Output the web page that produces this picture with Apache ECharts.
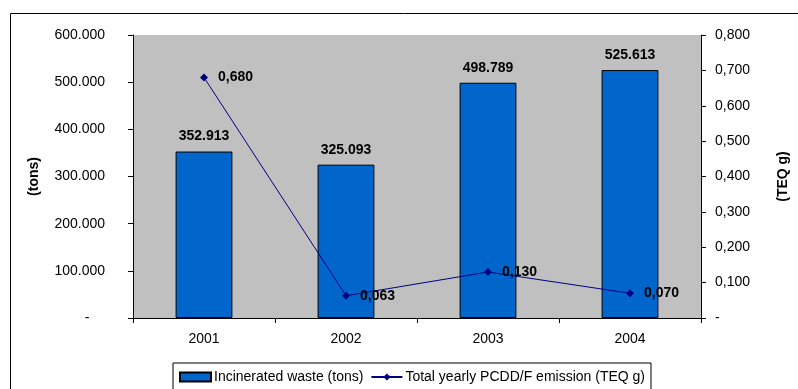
<!DOCTYPE html>
<html>
<head>
<meta charset="utf-8">
<script src="https://cdn.jsdelivr.net/npm/echarts@6/dist/echarts.min.js"></script>
<style>
  html, body { margin: 0; padding: 0; background: #fff; }
  #chart { width: 798px; height: 389px; }
</style>
</head>
<body>
<div id="chart"></div>
<script>
// data
var years = ['2001', '2002', '2003', '2004'];
var wasteTons = [352913, 325093, 498789, 525613];
var emissionTeq = [0.680, 0.063, 0.130, 0.070];
var wasteName = 'Incinerated waste (tons)';
var emissionName = 'Total yearly PCDD/F emission (TEQ g)';

var FONT = '"Liberation Sans", Arial, sans-serif';

// 352913 -> "352.913"
function fmtTons(v) {
    if (v === 0) return '-    ';
    return String(Math.round(v)).replace(/\B(?=(\d{3})+(?!\d))/g, '.');
}
// 0.68 -> "0,680"
function fmtTeq(v) {
    if (v === 0) return '-';
    return v.toFixed(3).replace('.', ',');
}

var chart = echarts.init(document.getElementById('chart'), null, { renderer: 'canvas' });

chart.setOption({
    animation: false,
    backgroundColor: '#ffffff',
    textStyle: { fontFamily: FONT, color: '#000' },
    graphic: [{
        type: 'rect',
        silent: true,
        z: -10,
        shape: { x: 10.5, y: 13.5, width: 820, height: 420 },
        style: { fill: 'none', stroke: '#000', lineWidth: 1 }
    }],
    grid: {
        left: 133, right: 96, top: 35, bottom: 71,
        show: true, backgroundColor: '#c0c0c0', borderWidth: 0
    },
    legend: {
        left: 173, top: 363,
        padding: [7, 6, 20, 6],
        borderColor: '#000', borderWidth: 1,
        itemGap: 7, itemWidth: 31, itemHeight: 9,
        textStyle: { fontFamily: FONT, fontSize: 14, color: '#000', padding: [0, 0, 0, -2] },
        data: [
            { name: wasteName, icon: 'rect' },
            { name: emissionName }
        ]
    },
    xAxis: {
        type: 'category',
        data: years,
        axisLine: { show: true, lineStyle: { color: '#000', width: 1 } },
        axisTick: { show: true, length: 5, lineStyle: { color: '#000' } },
        axisLabel: { fontFamily: FONT, fontSize: 14, color: '#000', margin: 14 },
        splitLine: { show: false }
    },
    yAxis: [{
        type: 'value',
        min: 0, max: 600000, interval: 100000,
        name: '(tons)',
        nameLocation: 'middle',
        nameGap: 92,
        nameRotate: 90,
        nameTextStyle: { fontFamily: FONT, fontSize: 14, fontWeight: 'bold', color: '#000' },
        axisLine: { show: true, lineStyle: { color: '#000', width: 1 } },
        axisTick: { show: true, length: 5, lineStyle: { color: '#000' } },
        axisLabel: { fontFamily: FONT, fontSize: 14, color: '#000', margin: 28, formatter: fmtTons },
        splitLine: { show: false }
    }, {
        type: 'value',
        min: 0, max: 0.8, interval: 0.1,
        name: '(TEQ g)',
        nameLocation: 'middle',
        nameGap: 75,
        nameRotate: 90,
        nameTextStyle: { fontFamily: FONT, fontSize: 14, fontWeight: 'bold', color: '#000' },
        position: 'right',
        axisLine: { show: true, lineStyle: { color: '#000', width: 1 } },
        axisTick: { show: true, length: 5, lineStyle: { color: '#000' } },
        axisLabel: { fontFamily: FONT, fontSize: 14, color: '#000', margin: 14, formatter: fmtTeq },
        splitLine: { show: false }
    }],
    series: [{
        name: wasteName,
        type: 'bar',
        yAxisIndex: 0,
        data: wasteTons,
        barWidth: '40%',
        itemStyle: { color: '#0066cc', borderColor: '#000', borderWidth: 1 },
        label: {
            show: true, position: 'top', distance: 8,
            fontFamily: FONT, fontSize: 14, fontWeight: 'bold', color: '#000',
            formatter: function (p) { return fmtTons(p.value); }
        }
    }, {
        name: emissionName,
        type: 'line',
        yAxisIndex: 1,
        data: emissionTeq,
        symbol: 'diamond',
        symbolSize: 8,
        lineStyle: { color: '#000080', width: 1 },
        itemStyle: { color: '#000080' },
        label: {
            show: true, position: 'right', distance: 10,
            fontFamily: FONT, fontSize: 14, fontWeight: 'bold', color: '#000',
            formatter: function (p) { return fmtTeq(p.value); }
        }
    }]
});
</script>
</body>
</html>
